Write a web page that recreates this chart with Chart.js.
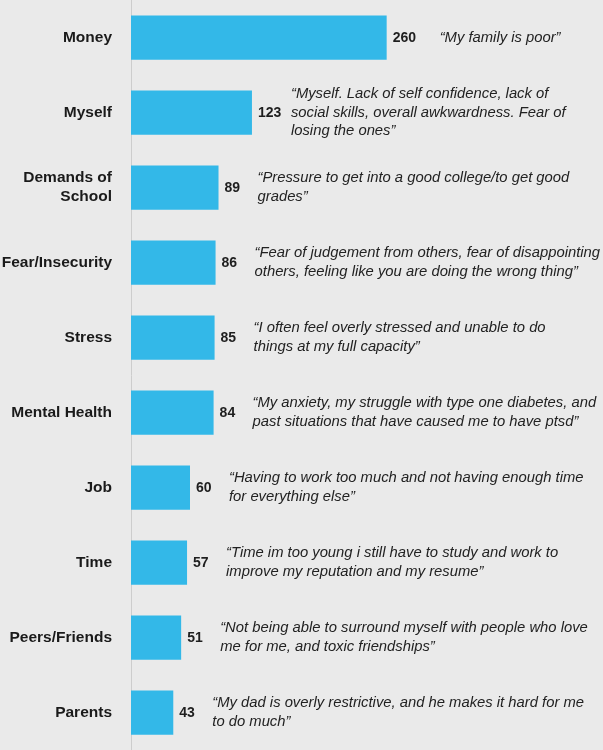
<!DOCTYPE html>
<html>
<head>
<meta charset="utf-8">
<script src="https://cdn.jsdelivr.net/npm/chart.js@4"></script>
<style>
  html, body { margin: 0; padding: 0; background: #eaeaea; }
  #wrap { width: 603px; height: 750px; }
</style>
</head>
<body>
<div id="wrap"><canvas id="worriesChart" width="603" height="750"></canvas></div>
<script>
const categories = ['Money', 'Myself', ['Demands of', 'School'], 'Fear/Insecurity', 'Stress',
  'Mental Health', 'Job', 'Time', 'Peers/Friends', 'Parents'];
const counts = [260, 123, 89, 86, 85, 84, 60, 57, 51, 43];
const quotes = [
  ['\u201cMy family is poor\u201d'],
  ['\u201cMyself. Lack of self confidence, lack of', 'social skills, overall awkwardness. Fear of', 'losing the ones\u201d'],
  ['\u201cPressure to get into a good college/to get good', 'grades\u201d'],
  ['\u201cFear of judgement from others, fear of disappointing', 'others, feeling like you are doing the wrong thing\u201d'],
  ['\u201cI often feel overly stressed and unable to do', 'things at my full capacity\u201d'],
  ['\u201cMy anxiety, my struggle with type one diabetes, and', 'past situations that have caused me to have ptsd\u201d'],
  ['\u201cHaving to work too much and not having enough time', 'for everything else\u201d'],
  ['\u201cTime im too young i still have to study and work to', 'improve my reputation and my resume\u201d'],
  ['\u201cNot being able to surround myself with people who love', 'me for me, and toxic friendships\u201d'],
  ['\u201cMy dad is overly restrictive, and he makes it hard for me', 'to do much\u201d']
];

const FONT = '"Liberation Sans", Arial, sans-serif';

// value + quote next to each bar
const barNotes = {
  id: 'barNotes',
  afterDatasetsDraw(chart) {
    const ctx = chart.ctx;
    const meta = chart.getDatasetMeta(0);
    ctx.save();
    ctx.textBaseline = 'middle';
    ctx.textAlign = 'left';
    meta.data.forEach((bar, i) => {
      ctx.fillStyle = '#1e1e1e';
      ctx.font = 'bold 14px ' + FONT;
      ctx.fillText(String(counts[i]), bar.x + 6, bar.y + 1);
      const lines = quotes[i];
      const lh = 18.5;
      const startY = bar.y - (lines.length - 1) * lh / 2;
      ctx.font = 'italic 14.8px ' + FONT;
      ctx.fillStyle = '#222';
      const qx = bar.x + (i === 0 ? 53 : 39);
      lines.forEach((ln, k) => ctx.fillText(ln, qx, startY + k * lh));
    });
    ctx.restore();
  }
};

new Chart(document.getElementById('worriesChart'), {
  type: 'bar',
  data: {
    labels: categories,
    datasets: [{
      data: counts,
      backgroundColor: '#33b8e8',
      borderWidth: 0,
      barPercentage: 0.59,
      categoryPercentage: 1.0
    }]
  },
  options: {
    indexAxis: 'y',
    responsive: false,
    animation: false,
    layout: { padding: 0 },
    plugins: {
      legend: { display: false },
      tooltip: { enabled: false }
    },
    scales: {
      x: {
        display: false,
        min: 0,
        max: 480
      },
      y: {
        afterFit(scale) {
          scale.width = 131;
          scale.paddingTop = 0;
          scale.paddingBottom = 0;
        },
        grid: { display: false, drawTicks: false },
        border: { display: true, color: '#cdcdcd', width: 1 },
        ticks: {
          color: '#1a1a1a',
          padding: 19,
          font: { family: FONT, size: 15.5, weight: 'bold', lineHeight: 1.22 }
        }
      }
    }
  },
  plugins: [barNotes]
});
</script>
</body>
</html>
